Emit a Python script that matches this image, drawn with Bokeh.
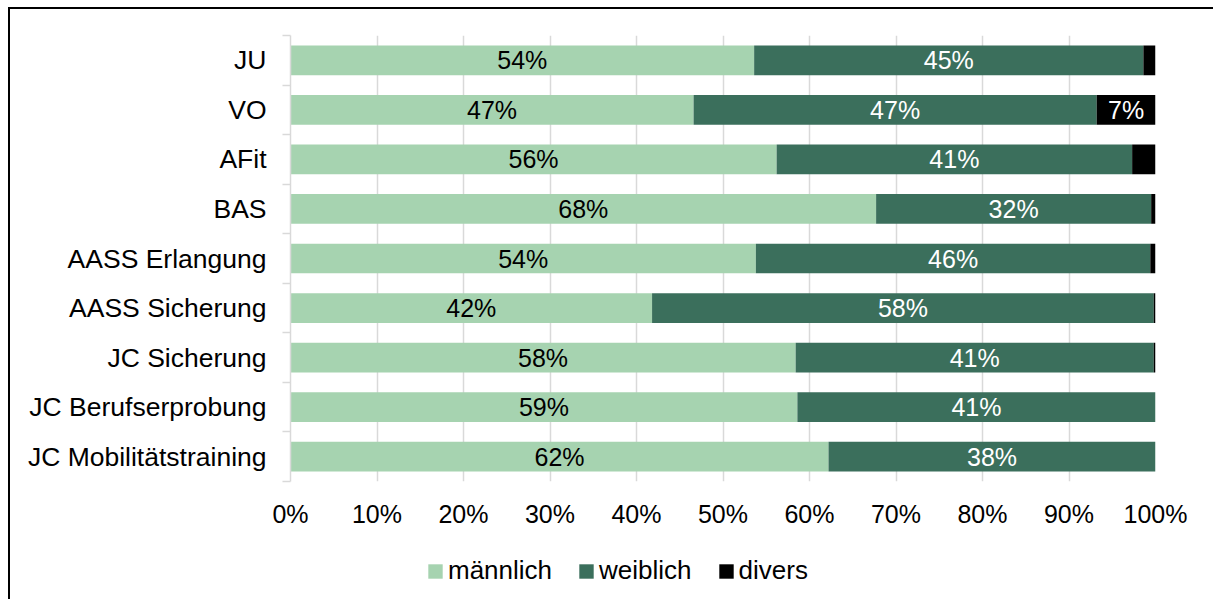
from bokeh.plotting import figure
from bokeh.layouts import column
from bokeh.models import Range1d, FixedTicker, Legend, LegendItem, ColumnDataSource, PrintfTickFormatter
from bokeh.embed import file_html
from bokeh.resources import INLINE
from bokeh.core.properties import value

categories = ["JU", "VO", "AFit", "BAS", "AASS Erlangung", "AASS Sicherung",
              "JC Sicherung", "JC Berufserprobung", "JC Mobilitätstraining"]
maennlich = [53.6, 46.6, 56.2, 67.7, 53.8, 41.8, 58.4, 58.6, 62.2]
weiblich = [45.0, 46.6, 41.1, 31.8, 45.6, 58.0, 41.4, 41.4, 37.8]
divers = [1.4, 6.8, 2.7, 0.5, 0.6, 0.2, 0.2, 0.0, 0.0]
series_names = ["männlich", "weiblich", "divers"]
series_values = [maennlich, weiblich, divers]
colors = ["#a6d3b0", "#3b6f5c", "#000000"]
label_colors = ["#000000", "#ffffff", "#ffffff"]
x_ticks = [0, 10, 20, 30, 40, 50, 60, 70, 80, 90, 100]

FONT = "Liberation Sans"
n = len(categories)
ypos = [n - i - 0.5 for i in range(n)]

p = figure(frame_width=865, frame_height=446,
           x_range=Range1d(0, 100), y_range=Range1d(0, n),
           output_backend="svg", toolbar_location=None,
           min_border_left=280, min_border_right=58,
           min_border_top=26, min_border_bottom=50)
p.outline_line_color = None

sources = []
left = [0.0] * n
for name, vals, col, lcol in zip(series_names, series_values, colors, label_colors):
    right = [l + v for l, v in zip(left, vals)]
    src = ColumnDataSource(dict(y=ypos, left=left, right=right,
                                xc=[(l + r) / 2 for l, r in zip(left, right)],
                                txt=[f"{round(v)}%" if v >= 5 else "" for v in vals]))
    sources.append(src)
    p.hbar(y="y", left="left", right="right", height=0.6, source=src,
           fill_color=col, line_color=None)
    p.text(x="xc", y="y", text="txt", source=src, text_align="center",
           text_baseline="middle", text_color=lcol,
           text_font=value(FONT), text_font_size="25px")
    left = right

# grid
p.ygrid.visible = False
p.xgrid.ticker = FixedTicker(ticks=x_ticks)
p.xgrid.grid_line_color = "#d9d9d9"
p.xgrid.grid_line_width = 1.5

# x axis
p.xaxis.ticker = FixedTicker(ticks=x_ticks)
p.xaxis.formatter = PrintfTickFormatter(format="%d%%")
p.xaxis.axis_line_color = None
p.xaxis.major_tick_line_color = None
p.xaxis.minor_tick_line_color = None
p.xaxis.major_label_text_font = FONT
p.xaxis.major_label_text_font_size = "25px"
p.xaxis.major_label_text_color = "#000000"
p.xaxis.major_label_standoff = 12

# y axis
p.yaxis.ticker = FixedTicker(ticks=ypos, minor_ticks=list(range(n + 1)))
p.yaxis.major_label_overrides = {y: c for y, c in zip(ypos, categories)}
p.yaxis.axis_line_color = "#d9d9d9"
p.yaxis.axis_line_width = 1.5
p.yaxis.major_tick_line_color = None
p.yaxis.major_tick_out = 0
p.yaxis.major_tick_in = 0
p.yaxis.minor_tick_line_color = "#d9d9d9"
p.yaxis.minor_tick_line_width = 1.5
p.yaxis.minor_tick_out = 8
p.yaxis.minor_tick_in = 0
p.yaxis.major_label_text_font = FONT
p.yaxis.major_label_text_font_size = "26.5px"
p.yaxis.major_label_text_color = "#000000"
p.yaxis.major_label_standoff = 16

# legend strip: same series sources, viewed outside its range so only the keys show
lf = figure(width=1203, height=68, x_range=Range1d(0, 100), y_range=Range1d(n + 1, n + 2),
            output_backend="svg", toolbar_location=None,
            x_axis_type=None, y_axis_type=None, min_border=0)
lf.outline_line_color = None
lf.grid.visible = False
items = []
for name, col, src in zip(series_names, colors, sources):
    r = lf.hbar(y="y", left="left", right="right", height=0.6, source=src,
                fill_color=col, line_color=None)
    items.append(LegendItem(label=name, renderers=[r]))
legend = Legend(items=items, orientation="horizontal", location=(136, 13),
                glyph_width=18, glyph_height=18, label_standoff=4, spacing=25,
                padding=0, margin=0, border_line_color=None, background_fill_alpha=0,
                label_text_font=FONT, label_text_font_size="26px",
                label_text_color="#000000")
lf.add_layout(legend)

layout = column(p, lf, spacing=0)
layout.styles = {"border-top": "2px solid black", "border-left": "2px solid black",
                 "margin-top": "7px", "margin-left": "8px"}

open("out.html", "w").write(file_html(layout, INLINE))
